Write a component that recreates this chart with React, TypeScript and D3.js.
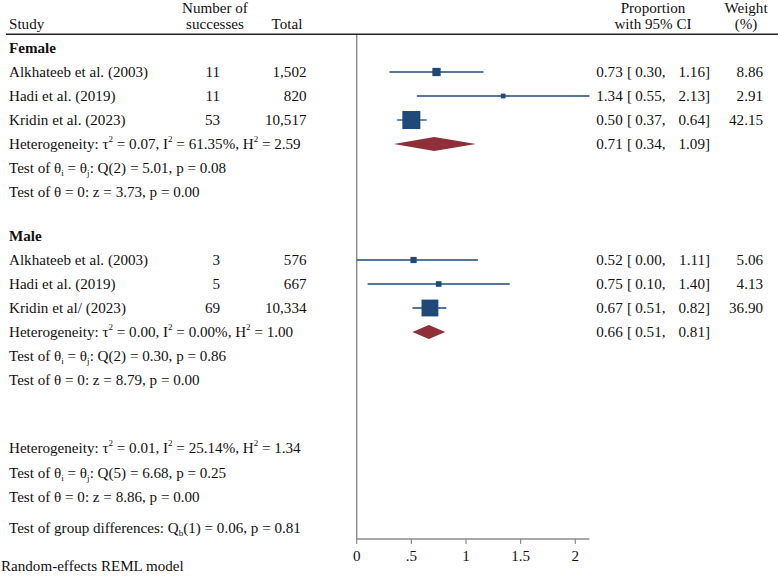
import React from "react";
import * as d3 from "d3";

const groupNames = ["Female", "Male"];
const studyNames = [
  "Alkhateeb et al. (2003)",
  "Hadi et al. (2019)",
  "Kridin et al. (2023)",
  "Alkhateeb et al. (2003)",
  "Hadi et al. (2019)",
  "Kridin et al/ (2023)",
];
const studyGroup = [0, 0, 0, 1, 1, 1];
const successes = [11, 11, 53, 3, 5, 69];
const totals = [1502, 820, 10517, 576, 667, 10334];
const estimates = [0.73, 1.34, 0.5, 0.52, 0.75, 0.67];
const lower = [0.3, 0.55, 0.37, 0.0, 0.1, 0.51];
const upper = [1.16, 2.13, 0.64, 1.11, 1.4, 0.82];
const weights = [8.86, 2.91, 42.15, 5.06, 4.13, 36.9];

const subEst = [0.71, 0.66];
const subLo = [0.34, 0.51];
const subHi = [1.09, 0.81];
const subTau2 = [0.07, 0.0];
const subI2 = [61.35, 0.0];
const subH2 = [2.59, 1.0];
const subQ = [5.01, 0.3];
const subQdf = [2, 2];
const subQp = [0.08, 0.86];
const subZ = [3.73, 8.79];
const subZp = [0.0, 0.0];

const allTau2 = 0.01;
const allI2 = 25.14;
const allH2 = 1.34;
const allQ = 6.68;
const allQdf = 5;
const allQp = 0.25;
const allZ = 8.86;
const allZp = 0.0;
const grpQb = 0.06;
const grpDf = 1;
const grpP = 0.81;

const tickValues = [0, 0.5, 1, 1.5, 2];
const tickLabels = ["0", ".5", "1", "1.5", "2"];

const BLUE = "#1f4a78";
const RED = "#8f2f3a";
const GRAY = "#8c8c8c";
const FONT = "'Liberation Serif', 'Times New Roman', serif";

const f2 = d3.format(".2f");
const fc = d3.format(",");

export default function App() {
  const W = 778;
  const H = 583;
  const x = d3.scaleLinear().domain([0, 2]).range([356.7, 575.3]);
  const maxW = d3.max(weights) as number;
  const side = (w: number) => 18 * Math.sqrt(w / maxW);

  const groupTop = [48, 236];
  const rowY = (g: number, i: number) => groupTop[g] + 24 * i;
  const axisY = 539;
  const fs = 15.1;
  const xStudy = 9;
  const xSucc = 220;
  const xTotal = 306.5;
  const xWeight = 763;

  const sup = (s: string) => (
    <tspan baselineShift="super" fontSize={9}>
      {s}
    </tspan>
  );
  const sub = (s: string) => (
    <tspan baselineShift="sub" fontSize={9}>
      {s}
    </tspan>
  );

  const hetText = (tau: number, i2: number, h2: number) => (
    <>
      Heterogeneity: τ{sup("2")} = {f2(tau)}, I{sup("2")} = {f2(i2)}%, H{sup("2")} = {f2(h2)}
    </>
  );
  const qText = (q: number, df: number, p: number) => (
    <>
      Test of θ{sub("i")} = θ{sub("j")}: Q({df}) = {f2(q)}, p = {f2(p)}
    </>
  );
  const zText = (z: number, p: number) => (
    <>Test of θ = 0: z = {f2(z)}, p = {f2(p)}</>
  );

  const textProps = {
    fontFamily: FONT,
    fontSize: fs,
    fill: "#111",
    dominantBaseline: "central" as const,
  };

  const CI = ({ y, e, l, h }: { y: number; e: number; l: number; h: number }) => (
    <g>
      <text {...textProps} x={622.7} y={y} textAnchor="end">{f2(e)}</text>
      <text {...textProps} x={627} y={y}>[</text>
      <text {...textProps} x={665.5} y={y} textAnchor="end">{f2(l)},</text>
      <text {...textProps} x={710} y={y} textAnchor="end">{f2(h)}]</text>
    </g>
  );

  return (
    <svg width={W} height={H} style={{ position: "absolute", left: 0, top: 0 }}>
      <rect width={W} height={H} fill="#fff" />
      {/* header */}
      <g {...textProps}>
        <text x={xStudy} y={24}>Study</text>
        <text x={215} y={8} textAnchor="middle">Number of</text>
        <text x={215} y={24} textAnchor="middle">successes</text>
        <text x={287} y={24} textAnchor="middle">Total</text>
        <text x={653} y={8} textAnchor="middle">Proportion</text>
        <text x={653} y={24} textAnchor="middle">with 95% CI</text>
        <text x={746} y={8} textAnchor="middle">Weight</text>
        <text x={746} y={24} textAnchor="middle">(%)</text>
      </g>
      <line x1={6} x2={W} y1={34.3} y2={34.3} stroke="#222" strokeWidth={1.6} />

      {/* null line */}
      <line x1={x(0)} x2={x(0)} y1={35} y2={axisY} stroke={GRAY} strokeWidth={1.5} />

      {groupNames.map((gname, g) => {
        const idx = studyNames.map((_, i) => i).filter((i) => studyGroup[i] === g);
        const dY = rowY(g, idx.length + 1);
        const dx0 = x(subLo[g]);
        const dx1 = x(subHi[g]);
        const dxm = x(subEst[g]);
        return (
          <g key={gname}>
            <text {...textProps} x={xStudy} y={rowY(g, 0)} fontWeight="bold">
              {gname}
            </text>
            {idx.map((i, k) => {
              const y = rowY(g, k + 1);
              const s = side(weights[i]);
              return (
                <g key={i}>
                  <text {...textProps} x={xStudy} y={y}>{studyNames[i]}</text>
                  <text {...textProps} x={xSucc} y={y} textAnchor="end">{successes[i]}</text>
                  <text {...textProps} x={xTotal} y={y} textAnchor="end">{fc(totals[i])}</text>
                  <line x1={x(lower[i])} x2={x(upper[i])} y1={y} y2={y} stroke={BLUE} strokeWidth={1.3} />
                  <rect x={x(estimates[i]) - s / 2} y={y - s / 2} width={s} height={s} fill={BLUE} />
                  <CI y={y} e={estimates[i]} l={lower[i]} h={upper[i]} />
                  <text {...textProps} x={xWeight} y={y} textAnchor="end">{f2(weights[i])}</text>
                </g>
              );
            })}
            <text {...textProps} x={xStudy} y={dY}>{hetText(subTau2[g], subI2[g], subH2[g])}</text>
            <polygon
              points={`${dx0},${dY} ${dxm},${dY - 7} ${dx1},${dY} ${dxm},${dY + 7}`}
              fill={RED}
            />
            <CI y={dY} e={subEst[g]} l={subLo[g]} h={subHi[g]} />
            <text {...textProps} x={xStudy} y={dY + 24}>{qText(subQ[g], subQdf[g], subQp[g])}</text>
            <text {...textProps} x={xStudy} y={dY + 48}>{zText(subZ[g], subZp[g])}</text>
          </g>
        );
      })}

      {/* overall */}
      <g {...textProps}>
        <text x={xStudy} y={448}>{hetText(allTau2, allI2, allH2)}</text>
        <text x={xStudy} y={473}>{qText(allQ, allQdf, allQp)}</text>
        <text x={xStudy} y={497}>{zText(allZ, allZp)}</text>
        <text x={xStudy} y={528}>
          Test of group differences: Q{sub("b")}({grpDf}) = {f2(grpQb)}, p = {f2(grpP)}
        </text>
        <text x={1} y={566}>Random-effects REML model</text>
      </g>

      {/* axis */}
      <line x1={x(0)} x2={x(2.13)} y1={axisY} y2={axisY} stroke={GRAY} strokeWidth={1.5} />
      {tickValues.map((t, i) => (
        <g key={t}>
          <line x1={x(t)} x2={x(t)} y1={axisY} y2={axisY + 5} stroke={GRAY} strokeWidth={1.2} />
          <text {...textProps} x={x(t)} y={axisY + 17} textAnchor="middle">
            {tickLabels[i]}
          </text>
        </g>
      ))}
    </svg>
  );
}
